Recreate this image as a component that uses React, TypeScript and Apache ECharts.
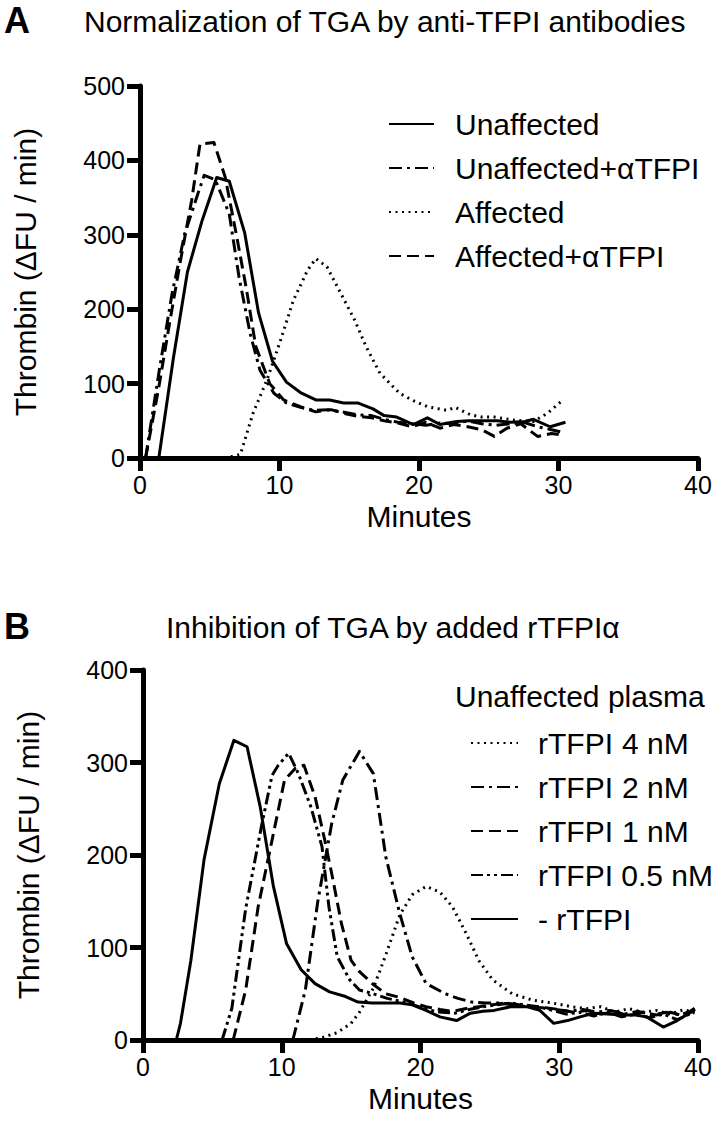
import React, { useEffect, useRef } from "react";
import * as echarts from "echarts";

const FONT = "'Liberation Sans', Arial, Helvetica, sans-serif";

// ---------- Panel A data (minutes, thrombin ΔFU/min) ----------
const namesA = ["Unaffected", "Unaffected+αTFPI", "Affected", "Affected+αTFPI"];

const unaffectedA: number[][] = [
  [1.35, 0], [2.4, 135], [3.4, 250], [4.45, 319], [5.5, 377], [6.4, 372], [7.5, 303], [8.5, 195],
  [9.5, 130], [10.5, 102], [11.5, 88], [12.6, 78], [13.6, 78], [14.6, 74], [15.6, 74], [16.7, 66],
  [17.5, 57], [18.4, 55], [19.6, 45], [20.6, 54], [21.5, 45], [22.7, 49], [23.6, 50], [24.6, 50],
  [25.6, 50], [26.6, 48], [27.6, 49], [28.2, 52], [29.4, 42], [30.5, 48],
];
const unaffectedAb: number[][] = [
  [0.4, 0], [1.4, 120], [2.3, 221], [3.2, 301], [4.2, 358], [4.6, 380], [5.4, 374], [6.4, 328],
  [7.1, 243], [7.9, 167], [8.6, 118], [9.6, 87], [10.5, 74], [11.5, 68], [12.5, 64], [13.5, 65],
  [14.5, 62], [15.6, 58], [16.6, 57], [17.5, 52], [18.5, 48], [19.5, 46], [20.5, 44], [21.5, 47],
  [22.5, 46], [23.5, 50], [24.5, 46], [25.5, 44], [26.5, 46], [27.5, 48], [28.5, 42], [29.5, 38],
  [30.2, 35],
];
const affectedA: number[][] = [
  [4.2, 0], [5.2, 0], [6.2, 0], [7.2, 5], [8.1, 60], [9.1, 105], [10.0, 154], [11.0, 212],
  [12.0, 252], [12.6, 268], [13.4, 257], [14.4, 221], [15.4, 185], [16.2, 150], [17.2, 114],
  [18.6, 87], [19.6, 77], [20.6, 69], [22.0, 64], [22.6, 68], [23.7, 58], [24.5, 55], [25.4, 55],
  [26.8, 51], [28.2, 49], [29.2, 60], [30.2, 76],
];
const affectedAb: number[][] = [
  [0.4, 0], [1.3, 90], [2.2, 190], [2.9, 265], [3.7, 346], [4.3, 422], [5.3, 424], [6.1, 378],
  [6.9, 301], [7.6, 230], [8.3, 150], [9.3, 100], [10.3, 78], [11.5, 69], [12.6, 62], [13.7, 65],
  [14.6, 60], [15.6, 56], [16.6, 54], [17.5, 50], [18.5, 47], [19.5, 42], [20.5, 48], [21.5, 40],
  [22.5, 45], [23.5, 42], [24.5, 38], [25.4, 29], [26.3, 40], [27.3, 46], [28.5, 29], [29.5, 33],
  [30.2, 31],
];

// ---------- Panel B data ----------
const namesB = ["rTFPI 4 nM", "rTFPI 2 nM", "rTFPI 1 nM", "rTFPI 0.5 nM", "- rTFPI"];

const tfpi4: number[][] = [
  [12.0, 0], [13.0, 3], [14.0, 8], [15.0, 18], [15.6, 30], [16.6, 56], [17.5, 92], [18.5, 135],
  [19.4, 157], [20.4, 166], [21.4, 160], [22.3, 144], [23.3, 115], [24.2, 86], [25.2, 65],
  [26.6, 50], [28.1, 43], [29.5, 40], [30.9, 36], [32.0, 34], [33.0, 36], [34.0, 30], [35.0, 34],
  [36.0, 30], [37.0, 32], [38.0, 28], [39.0, 33], [39.8, 29],
];
const tfpi2: number[][] = [
  [10.8, 0], [11.7, 54], [12.6, 150], [13.6, 234], [14.4, 281], [15.6, 312], [16.6, 288],
  [17.5, 198], [18.5, 137], [19.4, 90], [20.4, 61], [21.8, 50], [22.7, 45], [23.7, 41], [24.7, 40],
  [25.7, 40], [26.7, 38], [27.7, 36], [28.7, 35], [29.7, 33], [30.7, 31], [31.7, 33], [32.7, 30],
  [33.7, 32], [34.7, 28], [35.7, 31], [36.7, 27], [37.7, 30], [38.7, 27], [39.8, 33],
];
const tfpi1: number[][] = [
  [6.5, 0], [7.4, 54], [8.3, 144], [9.3, 216], [10.2, 281], [11.0, 294], [11.6, 297], [12.4, 263],
  [13.1, 216], [13.6, 180], [14.3, 126], [15.0, 86], [15.6, 74], [16.6, 60], [17.5, 50], [18.5, 46],
  [19.5, 40], [20.4, 36], [21.4, 33], [22.3, 31], [23.3, 34], [24.2, 36], [25.2, 38], [26.1, 40],
  [27.1, 38], [28.0, 36], [29.0, 35], [30.0, 33], [31.0, 30], [32.0, 32], [33.0, 28], [34.0, 31],
  [35.0, 26], [36.0, 30], [37.0, 27], [38.0, 30], [39.0, 26], [39.8, 35],
];
const tfpi05: number[][] = [
  [5.7, 0], [6.4, 34], [7.4, 142], [8.55, 232], [9.3, 286], [9.75, 297], [10.5, 310], [11.2, 288],
  [12.1, 252], [12.9, 209], [13.4, 144], [14.0, 90], [14.9, 65], [15.6, 54], [16.6, 50], [17.6, 45],
  [18.5, 42], [19.5, 38], [20.4, 33], [21.5, 30], [22.5, 29], [23.5, 33], [24.5, 36], [25.5, 38],
  [26.5, 40], [27.5, 38], [28.5, 36], [29.5, 32], [30.5, 28], [31.5, 30], [32.5, 26], [33.5, 30],
  [34.5, 25], [35.5, 28], [36.5, 24], [37.5, 28], [38.5, 22], [39.7, 30],
];
const noTfpi: number[][] = [
  [2.4, 0], [2.7, 18], [3.45, 86], [4.4, 195], [5.5, 277], [6.55, 324], [7.5, 317], [8.45, 252],
  [9.4, 166], [10.35, 104], [11.4, 76], [12.4, 61], [13.45, 52], [14.6, 47], [15.5, 41], [16.5, 40],
  [17.5, 40], [18.5, 40], [19.4, 38], [20.4, 32], [21.4, 25], [22.6, 21], [23.6, 29], [24.5, 31],
  [25.3, 32], [26.5, 36], [27.7, 36], [28.6, 32], [29.6, 18], [30.6, 21], [31.5, 25], [32.5, 29],
  [33.5, 28], [34.5, 27], [35.5, 27], [36.3, 25], [37.5, 14], [38.5, 21], [39.7, 32],
];

const xMax = 40;
const xStep = 10;
const yMaxA = 500;
const yMaxB = 400;
const yStep = 100;

const DASH_DOT = [13, 5, 3, 5];
const DOTTED = [2, 4.5];
const DASHED = [12, 6];
const DASH_DOT_DOT = [12, 4, 3, 4, 3, 4];

function xAxis(gridIndex: number) {
  return {
    type: "value",
    gridIndex,
    min: 0,
    max: xMax,
    interval: xStep,
    name: "Minutes",
    nameLocation: "middle",
    nameGap: 45,
    nameMoveOverlap: false,
    nameTextStyle: { fontSize: 30, lineHeight: 26, color: "#000", fontFamily: FONT },
    axisLine: { show: true, onZero: false, lineStyle: { color: "#000", width: 5 } },
    axisTick: { show: true, length: 13, lineStyle: { color: "#000", width: 5 } },
    axisLabel: { fontSize: 25, lineHeight: 22, color: "#000", fontFamily: FONT, margin: 16 },
    splitLine: { show: false },
  };
}
function yAxis(gridIndex: number, max: number) {
  return {
    type: "value",
    gridIndex,
    min: 0,
    max,
    interval: yStep,
    name: "Thrombin (ΔFU / min)",
    nameLocation: "middle",
    nameGap: 100,
    nameTextStyle: { fontSize: 30, color: "#000", fontFamily: FONT },
    axisLine: { show: true, lineStyle: { color: "#000", width: 5 } },
    axisTick: { show: true, length: 13, lineStyle: { color: "#000", width: 5 } },
    axisLabel: { fontSize: 25, color: "#000", fontFamily: FONT, margin: 15 },
    splitLine: { show: false },
  };
}
function line(name: string, idx: number, data: number[][], type: any) {
  return {
    type: "line",
    name,
    xAxisIndex: idx,
    yAxisIndex: idx,
    data,
    symbol: "none",
    clip: false,
    lineStyle: { color: "#000", width: 3, type, join: "round" },
    itemStyle: { color: "#000" },
    z: 3,
  };
}

export default function App() {
  const ref = useRef<HTMLDivElement>(null);
  useEffect(() => {
    const chart = echarts.init(ref.current!, null, { renderer: "svg" });
    const legendText = { fontSize: 30, color: "#000", fontFamily: FONT, padding: [0, 0, 0, 16] };
    const hideSymbol = { opacity: 0, color: "rgba(0,0,0,0)", borderWidth: 0 };
    const titleStyle = { fontSize: 30, fontWeight: "normal", color: "#000", fontFamily: FONT };
    const letterStyle = { fontSize: 36, fontWeight: "bold", color: "#000", fontFamily: FONT };
    chart.setOption({
      animation: false,
      backgroundColor: "#fff",
      title: [
        { text: "A", left: 4, top: 2, padding: 0, textStyle: letterStyle },
        { text: "Normalization of TGA by anti-TFPI antibodies", left: 84, top: 6, padding: 0, textStyle: titleStyle },
        { text: "B", left: 4, top: 608, padding: 0, textStyle: letterStyle },
        { text: "Inhibition of TGA by added rTFPIα", left: 166, top: 612, padding: 0, textStyle: titleStyle },
        { text: "Unaffected plasma", left: 455, top: 681, padding: 0, textStyle: titleStyle },
      ],
      grid: [
        { left: 140, top: 86, width: 558, height: 372 },
        { left: 143, top: 670, width: 555, height: 370 },
      ],
      xAxis: [xAxis(0), xAxis(1)],
      yAxis: [yAxis(0, yMaxA), yAxis(1, yMaxB)],
      legend: [
        {
          data: namesA,
          orient: "vertical",
          left: 388,
          top: 109,
          padding: 0,
          itemWidth: 45,
          itemHeight: 14,
          itemGap: 14,
          selectedMode: false,
          itemStyle: hideSymbol,
          textStyle: legendText,
        },
        {
          data: namesB,
          orient: "vertical",
          left: 470,
          top: 728,
          padding: 0,
          itemWidth: 47,
          itemHeight: 14,
          itemGap: 14,
          selectedMode: false,
          itemStyle: hideSymbol,
          formatter: (name: string) => {
            const m = name.match(/^rTFPI (\d+) nM$/);
            return m ? `{a|rTFPI}{b|${m[1]} nM}` : name;
          },
          textStyle: {
            ...legendText,
            padding: [0, 0, 0, 15],
            rich: {
              a: { width: 84, fontSize: 30, color: "#000", fontFamily: FONT },
              b: { fontSize: 30, color: "#000", fontFamily: FONT },
            },
          },
        },
      ],
      series: [
        line(namesA[0], 0, unaffectedA, "solid"),
        line(namesA[1], 0, unaffectedAb, DASH_DOT),
        line(namesA[2], 0, affectedA, DOTTED),
        line(namesA[3], 0, affectedAb, DASHED),
        line(namesB[0], 1, tfpi4, DOTTED),
        line(namesB[1], 1, tfpi2, DASH_DOT),
        line(namesB[2], 1, tfpi1, DASHED),
        line(namesB[3], 1, tfpi05, DASH_DOT_DOT),
        line(namesB[4], 1, noTfpi, "solid"),
      ],
    });
    return () => chart.dispose();
  }, []);
  return (
    <div
      ref={ref}
      style={{ position: "absolute", left: 0, top: 0, width: 725, height: 1125, background: "#fff" }}
    />
  );
}
